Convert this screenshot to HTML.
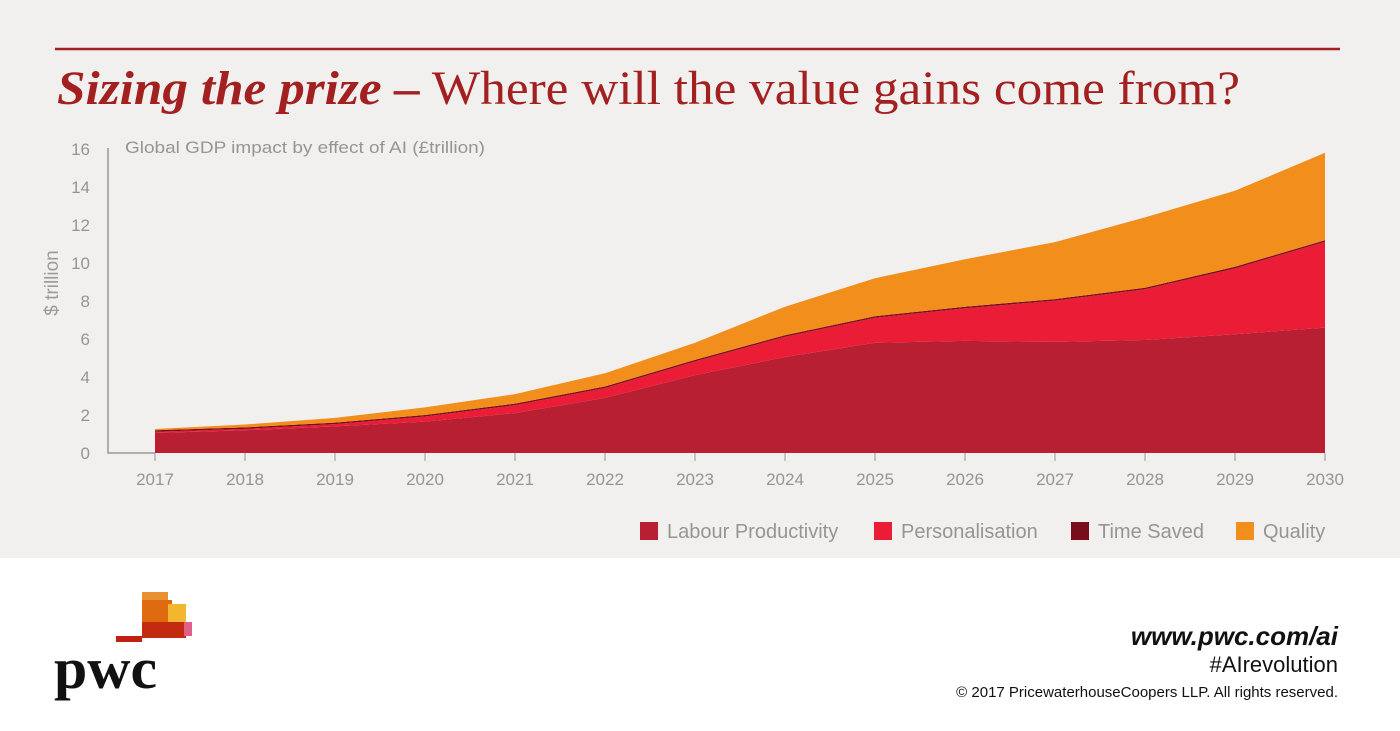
<!DOCTYPE html>
<html><head><meta charset="utf-8"><style>
body{margin:0;width:1400px;height:731px;background:#fff;overflow:hidden;font-family:"Liberation Sans",sans-serif}
#top{position:absolute;left:0;top:0;width:1400px;height:558px;background:#f1f0ef}
svg{position:absolute;left:0;top:0}
</style></head><body>
<div id="top"></div>
<svg id="chart" width="1400" height="731">
<line x1="55" y1="49" x2="1340" y2="49" stroke="#a32020" stroke-width="2.5"/>
<text x="57" y="104" font-family="Liberation Serif,serif" font-size="48" fill="#a32020" textLength="1183" lengthAdjust="spacingAndGlyphs"><tspan font-weight="bold" font-style="italic">Sizing the prize –</tspan> Where will the value gains come from?</text>
<text x="125" y="153" font-size="17" fill="#9a9490" textLength="360" lengthAdjust="spacingAndGlyphs">Global GDP impact by effect of AI (£trillion)</text>
<text transform="translate(58,283) rotate(-90)" text-anchor="middle" font-size="19" fill="#a09a96">$ trillion</text>
<g id="areas"></g>
<g id="axes"></g>
<g id="legend"></g>
<text x="1338" y="645" text-anchor="end" font-size="26" font-weight="bold" font-style="italic" fill="#111">www.pwc.com/ai</text>
<text x="1338" y="672" text-anchor="end" font-size="22" fill="#111">#AIrevolution</text>
<text x="1338" y="697" text-anchor="end" font-size="15" fill="#111">© 2017 PricewaterhouseCoopers LLP. All rights reserved.</text>
<g>
<rect x="142" y="592" width="26" height="12" fill="#e89030"/>
<rect x="142" y="600" width="30" height="24" fill="#e06a10"/>
<rect x="168" y="604" width="18" height="20" fill="#f2b630"/>
<rect x="142" y="622" width="44" height="16" fill="#c42a10"/>
<rect x="184" y="622" width="8" height="14" fill="#e0608a"/>
<rect x="116" y="636" width="26" height="6" fill="#c02010"/>
<text x="54" y="688" font-family="Liberation Serif,serif" font-weight="bold" font-size="58" fill="#111" textLength="103" lengthAdjust="spacingAndGlyphs">pwc</text>
</g>
</svg>
<script>
const years=[2017,2018,2019,2020,2021,2022,2023,2024,2025,2026,2027,2028,2029,2030];
const labour=[1.05,1.2,1.4,1.65,2.1,2.9,4.1,5.05,5.8,5.9,5.85,5.95,6.25,6.6];
const personalisation=[0.07,0.07,0.12,0.27,0.42,0.52,0.72,1.07,1.32,1.72,2.17,2.67,3.47,4.52];
const timeSaved=[0.08,0.08,0.08,0.08,0.08,0.08,0.08,0.08,0.08,0.08,0.08,0.08,0.08,0.08];
const quality=[0.06,0.15,0.25,0.4,0.5,0.7,0.9,1.5,2.0,2.5,3.0,3.7,4.0,4.6];
const yTicks=[0,2,4,6,8,10,12,14,16];
const NS="http://www.w3.org/2000/svg";
const xs=y=>155+(y-2017)*90;
const ys=v=>453-v*19;
function mk(t,a,p){const e=document.createElementNS(NS,t);for(const k in a)e.setAttribute(k,a[k]);p.appendChild(e);return e;}
const areas=document.getElementById('areas'),axes=document.getElementById('axes'),leg=document.getElementById('legend');
const series=[["Labour Productivity",labour,"#b81f33"],["Personalisation",personalisation,"#ea1c36"],["Time Saved",timeSaved,"#7a0d1c"],["Quality",quality,"#f28e1c"]];
let base=years.map(()=>0);
series.forEach(([name,vals,col])=>{
  const top=base.map((b,i)=>b+vals[i]);
  let d=years.map((y,i)=>(i?"L":"M")+xs(y)+","+ys(top[i])).join("");
  for(let i=years.length-1;i>=0;i--)d+="L"+xs(years[i])+","+ys(base[i]);
  const p=mk('path',{d:d+"Z",fill:col},areas);
  
  
  base=top;
});
const ax=mk('path',{d:"M108,148V453H155",stroke:"#999",fill:"none","stroke-width":1.5},axes);


yTicks.forEach(v=>{
  const t=mk('text',{x:90,y:ys(v)+6,"text-anchor":"end","font-size":17,fill:"#9a9490"},axes);
  t.textContent=v;
  
  
});
years.forEach(y=>{
  const l=mk('line',{x1:xs(y),x2:xs(y),y1:453,y2:461,stroke:"#999"},axes);
  
  
  const t=mk('text',{x:xs(y),y:485,"text-anchor":"middle","font-size":17,fill:"#9a9490"},axes);
  t.textContent=y;
  
  
});
const lx=[640,874,1071,1236];
series.forEach(([name,vals,col],i)=>{
  const r=mk('rect',{x:lx[i],y:522,width:18,height:18,fill:col},leg);
  
  
  const t=mk('text',{x:lx[i]+27,y:538,"font-size":20,fill:"#9a9490"},leg);
  t.textContent=name;
  
  
});
</script>
</body></html>
